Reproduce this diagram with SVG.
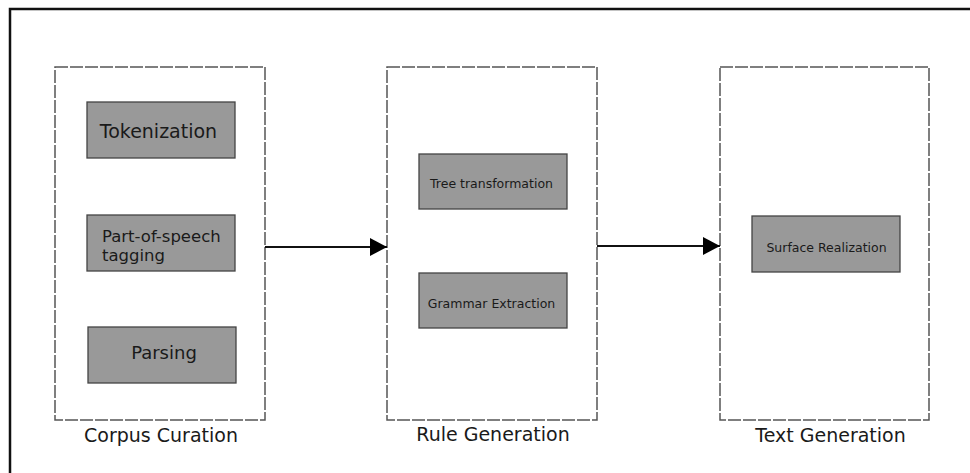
<svg xmlns="http://www.w3.org/2000/svg" width="970" height="473" viewBox="0 0 970 473">
<style>
.stage{fill:none;stroke:#555;stroke-width:1.5;stroke-dasharray:13 2}
.step{fill:#999;stroke:#444;stroke-width:1.3}
text{font-family:"DejaVu Sans",Verdana,sans-serif;fill:#1a1a1a}
.lbl{font-size:19px;text-anchor:middle}
.sm{font-size:12.5px;text-anchor:middle}
.conn{stroke:#111;stroke-width:2;fill:none}
</style>
<defs>
<marker id="ah" markerWidth="18" markerHeight="18" refX="17" refY="9" orient="auto" markerUnits="userSpaceOnUse">
<path d="M0,0 L17,9 L0,18 Z" fill="#000"/>
</marker>
</defs>
<rect x="0" y="0" width="970" height="473" fill="#fff"/>
<rect x="10" y="9" width="1000" height="500" fill="none" stroke="#111" stroke-width="2.5"/>

<g id="corpus-curation">
<rect class="stage" x="55" y="67" width="210" height="353"/>
<text class="lbl" x="161" y="442">Corpus Curation</text>
</g>
<g id="tokenization">
<rect class="step" x="87" y="102" width="148" height="56"/>
<text x="158.5" y="138" style="font-size:19px;text-anchor:middle">Tokenization</text>
</g>
<g id="pos-tagging">
<rect class="step" x="87" y="215" width="148" height="56"/>
<text x="102" y="242" style="font-size:16.5px">Part-of-speech</text>
<text x="102" y="261" style="font-size:16.5px">tagging</text>
</g>
<g id="parsing">
<rect class="step" x="88" y="327" width="148" height="56"/>
<text x="164" y="359" style="font-size:18px;text-anchor:middle">Parsing</text>
</g>

<g id="rule-generation">
<rect class="stage" x="387" y="67" width="210" height="353"/>
<text class="lbl" x="493" y="441">Rule Generation</text>
</g>
<g id="tree-transformation">
<rect class="step" x="419" y="154" width="148" height="55"/>
<text class="sm" x="491.5" y="188">Tree transformation</text>
</g>
<g id="grammar-extraction">
<rect class="step" x="419" y="273" width="148" height="55"/>
<text class="sm" x="491.5" y="308">Grammar Extraction</text>
</g>

<g id="text-generation">
<rect class="stage" x="720" y="67" width="209" height="353"/>
<text class="lbl" x="830.5" y="442">Text Generation</text>
</g>
<g id="surface-realization">
<rect class="step" x="752" y="216" width="148" height="56"/>
<text class="sm" x="826.5" y="251.5">Surface Realization</text>
</g>

<g id="connectors">
<line class="conn" x1="265" y1="247" x2="387" y2="247" marker-end="url(#ah)"/>
<line class="conn" x1="597" y1="246" x2="720" y2="246" marker-end="url(#ah)"/>
</g>
</svg>
